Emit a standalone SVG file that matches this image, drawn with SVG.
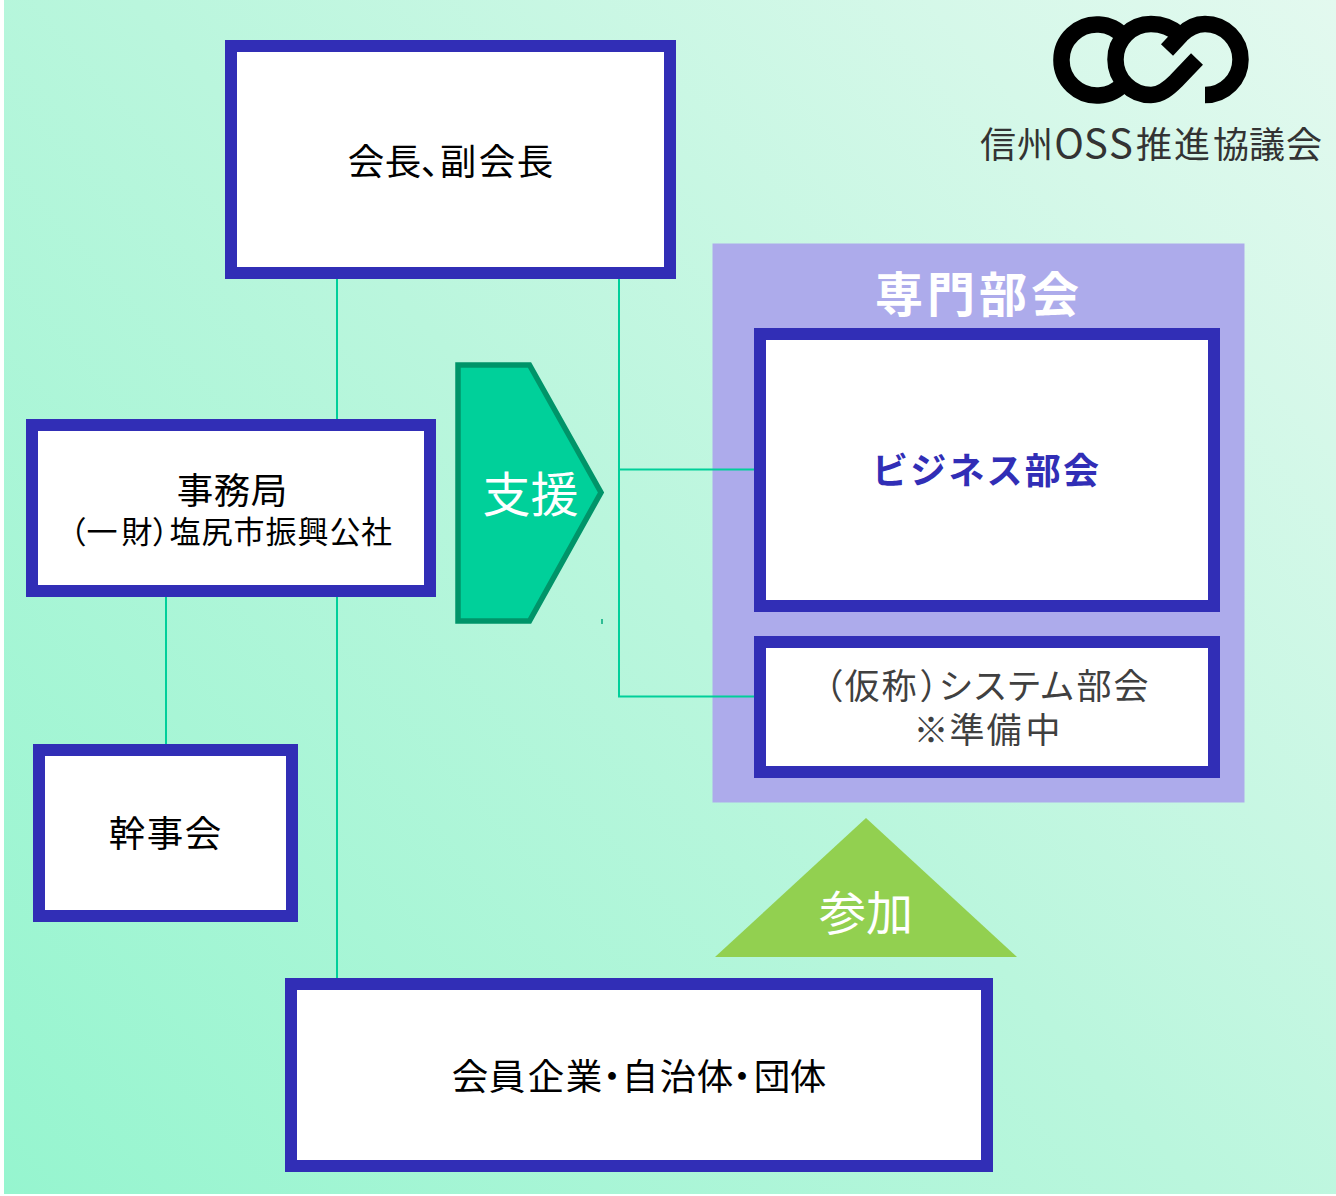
<svg xmlns="http://www.w3.org/2000/svg" width="1336" height="1196" viewBox="0 0 1336 1196">
<style>
text{font-family:"Noto Sans CJK JP","Noto Sans",sans-serif;text-anchor:middle}
.box{fill:#fff;stroke:#312eb6;stroke-width:12}
.t{font-size:36.500px;fill:#000}
.g{font-size:35px;fill:#404040}
.c{fill:none;stroke:#00cf9a;stroke-width:2}
.logo{fill:none;stroke:#000;stroke-width:16.500}
</style>
<defs>
<linearGradient id="bg" gradientUnits="userSpaceOnUse" x1="4" y1="1194" x2="1336" y2="0">
<stop offset="0" stop-color="#96f5cf"/><stop offset="0.5" stop-color="#baf6dd"/><stop offset="1" stop-color="#e3f9ef"/>
</linearGradient>
</defs>
<rect id="background" x="4" y="0" width="1332" height="1194" fill="url(#bg)"/>
<g id="panel">
<rect x="712.500" y="243.500" width="532" height="559" fill="#adabeb"/>
<text x="977" y="312" font-size="48" font-weight="700" fill="#fff" textLength="204" lengthAdjust="spacing">専門部会</text>
</g>
<g id="connectors">
<path class="c" d="M337 279V419"/>
<path class="c" d="M619 279V696.500H754"/>
<path class="c" d="M619 469.500H754"/>
<path class="c" d="M166 597V744"/>
<path class="c" d="M337 597V978"/>
<path d="M602 619V624" fill="none" stroke="#00a87c" stroke-width="1.500"/>
</g>
<g id="chair"><rect class="box" x="231" y="46" width="439" height="227"/>
<text class="t" x="366 403 439 458 497 535" y="175">会長、副会長</text></g>
<g id="secretariat"><rect class="box" x="32" y="425" width="398" height="166"/>
<text class="t" x="195 232 269" y="504">事務局</text>
<text x="71 102 137 167.500 185 217 249 281 313 345 376.500" y="543" font-size="31">（一財）塩尻市振興公社</text></g>
<g id="support"><polygon points="458,365 529.500,365 601,492.500 529.500,621 458,621" fill="#00d09a" stroke="#009469" stroke-width="5.500"/>
<text x="530.500" y="512" font-size="48" fill="#fff">支援</text></g>
<g id="business"><rect class="box" x="760" y="334" width="454" height="272"/>
<text x="985.500" y="484" font-size="36" font-weight="700" fill="#312eb6" textLength="227" lengthAdjust="spacing">ビジネス部会</text></g>
<g id="system"><rect class="box" x="760" y="642" width="454" height="130"/>
<text class="g" x="826 862 899 937 956 990 1024 1057 1094 1131" y="699">（仮称）システム部会</text>
<text class="g" x="931 967 1004 1043" y="743">※準備中</text></g>
<g id="managers"><rect class="box" x="39" y="750" width="253" height="166"/>
<text class="t" x="127 165 203" y="847">幹事会</text></g>
<g id="join"><polygon points="715,957 866,818 1017,957" fill="#92d050"/>
<text x="866" y="930" font-size="47" fill="#fff">参加</text></g>
<g id="members"><rect class="box" x="291" y="984" width="696" height="182"/>
<text class="t" x="470 507 546 584 612 640 678 715 742 772 808" y="1090">会員企業・自治体・団体</text></g>
<g id="logo">
<path class="logo" d="M1124 37A35.500 35.500 0 1 0 1124 83"/>
<path class="logo" d="M1197 59L1176 81C1169 88 1161 95 1151 95A35.500 35.500 0 0 1 1151 24C1162 24 1172 28 1180 35"/>
<path class="logo" d="M1205 95A35.500 35.500 0 0 0 1205 24C1194 24 1187 29 1181 35L1167 50"/>
<text y="158" font-size="36" fill="#333"><tspan x="998 1035">信州</tspan><tspan x="1069 1096 1121" font-size="40">OSS</tspan><tspan x="1154 1192 1231 1267 1304">推進協議会</tspan></text>
</g>
</svg>
